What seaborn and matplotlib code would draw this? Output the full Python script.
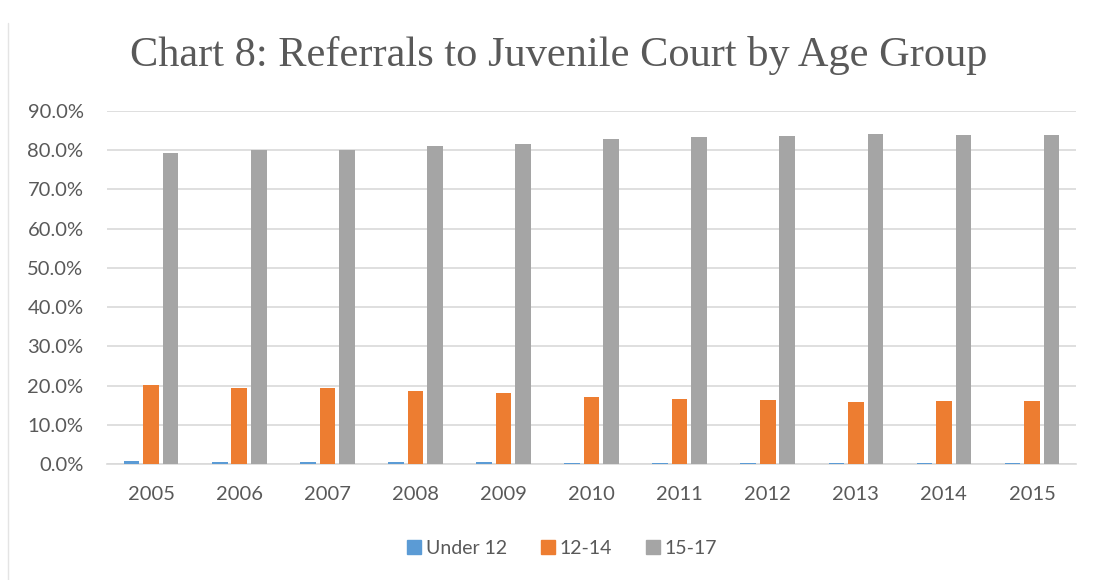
import matplotlib
matplotlib.use("Agg")
import matplotlib.pyplot as plt
import matplotlib.ticker as mticker
from matplotlib.lines import Line2D
import pandas as pd
import seaborn as sns

# data (share of referrals)
years = ["2005", "2006", "2007", "2008", "2009", "2010",
         "2011", "2012", "2013", "2014", "2015"]
under_12 = [0.007, 0.006, 0.006, 0.004, 0.004, 0.003, 0.002, 0.002, 0.002, 0.002, 0.002]
age_12_14 = [0.201, 0.193, 0.193, 0.186, 0.181, 0.170, 0.165, 0.163, 0.158, 0.160, 0.160]
age_15_17 = [0.792, 0.801, 0.801, 0.810, 0.815, 0.827, 0.833, 0.835, 0.840, 0.838, 0.838]
groups = ["Under 12", "12-14", "15-17"]
colors = ["#5B9BD5", "#ED7D31", "#A5A5A5"]

df = pd.DataFrame({"Year": years, "Under 12": under_12, "12-14": age_12_14, "15-17": age_15_17})
long_df = df.melt(id_vars="Year", var_name="Group", value_name="Share")

sns.set_theme(style="white")
plt.rcParams["font.family"] = ["Lato", "DejaVu Sans"]

fig = plt.figure(figsize=(10.93, 5.8), dpi=100)
ax = fig.add_axes([0.098, 0.2, 0.8865, 0.609])

sns.barplot(data=long_df, x="Year", y="Share", hue="Group", hue_order=groups,
            palette=colors, width=0.665, gap=0.2, linewidth=0, saturation=1,
            ax=ax, legend=False, zorder=3)

ax.set_ylim(0, 0.9)
ax.set_xlim(-0.5, len(years) - 0.5)
ax.yaxis.set_major_locator(mticker.MultipleLocator(0.1))
ax.yaxis.set_major_formatter(mticker.PercentFormatter(1.0, decimals=1))
ax.grid(axis="y", color="#D9D9D9", linewidth=1.2, zorder=0)
ax.set_axisbelow(True)
for side in ["left", "right", "top"]:
    ax.spines[side].set_visible(False)
ax.spines["bottom"].set_color("#D9D9D9")
ax.spines["bottom"].set_linewidth(1.2)
ax.tick_params(axis="both", length=0, labelsize=14.5, labelcolor="#595959")
ax.tick_params(axis="y", pad=17)
ax.tick_params(axis="x", pad=16)
ax.set_xlabel("")
ax.set_ylabel("")

fig.text(0.511, 0.905, "Chart 8: Referrals to Juvenile Court by Age Group",
         ha="center", va="center", fontsize=30.5, color="#595959",
         family=["Liberation Serif", "DejaVu Serif"])

handles = [Line2D([0], [0], marker="s", linestyle="", markersize=10,
                  markerfacecolor=c, markeredgecolor=c) for c in colors]
fig.legend(handles, groups, loc="center", bbox_to_anchor=(0.513, 0.055), ncol=3,
           frameon=False, fontsize=14, labelcolor="#595959",
           handletextpad=0.1, columnspacing=1.6, handlelength=1.0)

# faint chart border on the left, as in the source
fig.add_artist(Line2D([0.007, 0.007], [0.0, 0.96], transform=fig.transFigure,
                      color="#E4E4E4", linewidth=1))

fig.savefig("out.png", dpi=100)
